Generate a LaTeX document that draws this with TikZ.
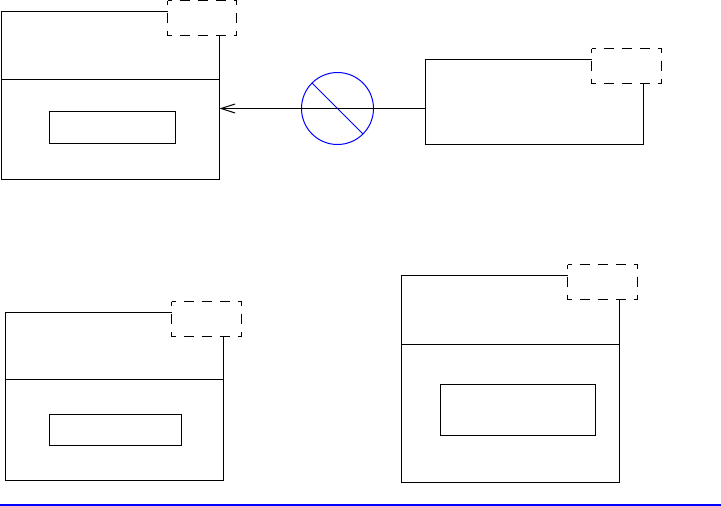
\documentclass[tikz,border=0pt]{standalone}
\usetikzlibrary{arrows.meta, positioning}

\begin{document}
\begin{tikzpicture}[
  x=1pt, y=-1pt,
  node distance=0pt,
  classbox/.style={rectangle, draw, line width=1pt, inner sep=0pt, outer sep=0pt, anchor=north west},
  paramfill/.style={rectangle, fill=white, inner sep=0pt, outer sep=0pt, minimum width=70pt, minimum height=35pt, anchor=north west},
  paramline/.style={line width=1pt, dash pattern=on 10pt off 8pt, dash phase=6pt},
  arrow/.style={line width=1pt, -{Straight Barb[length=14pt, width=9pt]}},
  bar/.style={blue, line width=2pt}
]
\useasboundingbox (0,0) rectangle (721,506);

% Class boxes, top left
\node[classbox, minimum width=218pt, minimum height=68pt] (leftTop) at (1.5,11.5) {};
\node[classbox, anchor=north, minimum width=218pt, minimum height=100pt, below=of leftTop] (leftBody) {};
\node[classbox, minimum width=126pt, minimum height=32pt] (leftInner) at (49.5,111.5) {};
\node[paramfill, minimum width=69pt] (leftParam) at (167.5,0.5) {};

% Class box, top right
\node[classbox, minimum width=218pt, minimum height=85.5pt] (rightBox) at (425.5,59) {};
\node[paramfill] (rightParam) at (591.5,48.5) {};

% Class boxes, bottom left
\node[classbox, minimum width=218pt, minimum height=67pt] (lowTop) at (5.5,312.5) {};
\node[classbox, anchor=north, minimum width=218pt, minimum height=101pt, below=of lowTop] (lowBody) {};
\node[classbox, minimum width=132pt, minimum height=31pt] (lowInner) at (49.5,414) {};
\node[paramfill] (lowParam) at (171.5,301.5) {};

% Class boxes, bottom right
\node[classbox, minimum width=218pt, minimum height=69pt] (bigTop) at (401.5,275.5) {};
\node[classbox, anchor=north, minimum width=218pt, minimum height=137.5pt, below=of bigTop] (bigBody) {};
\node[classbox, minimum width=155.5pt, minimum height=51pt] (bigInner) at (440,384.5) {};
\node[paramfill] (bigParam) at (567.5,264.5) {};

% Dashed corners
\foreach \p in {leftParam, rightParam, lowParam, bigParam} {
  \draw[paramline] (\p.north west) -- (\p.north east);
  \draw[paramline] (\p.south west) -- (\p.south east);
  \draw[paramline] (\p.north west) -- (\p.south west);
  \draw[paramline] (\p.north east) -- (\p.south east);
}

% Crossed out link
\node[circle, draw=blue, line width=1pt, minimum size=72pt, inner sep=0pt, outer sep=0pt] (nolink) at (337.5,108.5) {};
\draw[arrow] (nolink -| rightBox.west) -- (nolink -| leftBody.east);
\draw[blue, line width=1pt] (nolink.135) -- (nolink.-45);

% Rule at the bottom
\coordinate (barL) at (0,505);
\coordinate (barR) at (721,505);
\draw[bar] (barL) -- (barR);

\end{tikzpicture}
\end{document}
